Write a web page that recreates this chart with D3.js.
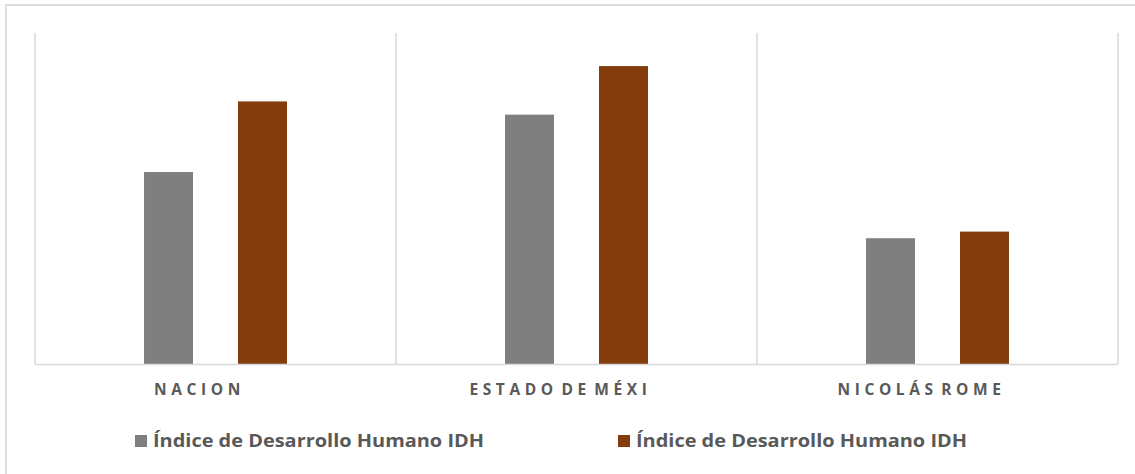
<!DOCTYPE html>
<html>
<head>
<meta charset="utf-8">
<script src="https://cdn.jsdelivr.net/npm/d3@7"></script>
<style>
  body { margin: 0; background: #fff; }
  svg { display: block; }
</style>
</head>
<body>
<svg id="chart" width="1135" height="474"></svg>
<script>
// categories (labels are truncated as in the original)
var categories = ['NACION', 'ESTADO DE MÉXI', 'NICOLÁS ROME'];
var seriesNames = ['Índice de Desarrollo Humano IDH', 'Índice de Desarrollo Humano IDH'];
// values (no value axis shown)
var idhA = [0.737, 0.763, 0.707];
var idhB = [0.769, 0.785, 0.710];
var seriesColors = ['#7f7f7f', '#843c0c'];

function drawChart() {
    const svg = d3.select('#chart');
    var textGray = '#595959';
    var lineGray = '#d9d9d9';

    var left = 35, right = 1118, top = 33, bottom = 364;

    // outer frame (only top and left edges are visible in the crop)
    svg.append('path')
        .attr('d', 'M6,474 L6,5 L1135,5')
        .attr('fill', 'none')
        .attr('stroke', '#dedede')
        .attr('stroke-width', 2);

    var x = d3.scaleBand()
        .domain(categories)
        .range([left, right])
        .padding(0);

    var xInner = d3.scaleBand()
        .domain([0, 1])
        .range([0, x.bandwidth()])
        .paddingInner(0.479)
        .paddingOuter(1.16);

    var y = d3.scaleLinear()
        .domain([0.65, 0.80])
        .range([bottom, top]);

    // category separators
    var seps = categories.map(function (c) { return x(c); }).concat([right]);
    svg.selectAll('.sep')
        .data(seps)
        .enter().append('line')
        .attr('x1', function (d) { return d; })
        .attr('x2', function (d) { return d; })
        .attr('y1', top)
        .attr('y2', bottom)
        .attr('stroke', lineGray)
        .attr('stroke-width', 1.5);

    var series = [idhA, idhB];
    for (var s = 0; s < series.length; s++) {
        svg.selectAll('.bar' + s)
            .data(series[s])
            .enter().append('rect')
            .attr('x', function (d, i) { return x(categories[i]) + xInner(s); })
            .attr('y', function (d) { return y(d); })
            .attr('width', xInner.bandwidth())
            .attr('height', function (d) { return bottom - y(d); })
            .attr('fill', seriesColors[s]);
    }

    // baseline
    svg.append('line')
        .attr('x1', left)
        .attr('x2', right)
        .attr('y1', bottom + 0.5)
        .attr('y2', bottom + 0.5)
        .attr('stroke', lineGray)
        .attr('stroke-width', 1.5);

    // category labels
    svg.selectAll('.cat')
        .data(categories)
        .enter().append('text')
        .text(function (d) { return d; })
        .attr('x', function (d) { return x(d) + x.bandwidth() / 2 - 16; })
        .attr('y', 395)
        .attr('text-anchor', 'middle')
        .attr('font-family', '"Open Sans", sans-serif')
        .attr('font-weight', 700)
        .attr('font-size', 15.5)
        .attr('letter-spacing', '4.6px')
        .attr('word-spacing', '-5px')
        .attr('fill', textGray);

    // legend
    var legendX = [135, 618];
    for (var k = 0; k < seriesNames.length; k++) {
        svg.append('rect')
            .attr('x', legendX[k])
            .attr('y', 435)
            .attr('width', 12)
            .attr('height', 12)
            .attr('fill', seriesColors[k]);
        svg.append('text')
            .text(seriesNames[k])
            .attr('x', legendX[k] + 18)
            .attr('y', 447)
            .attr('font-family', '"Open Sans", sans-serif')
            .attr('font-weight', 700)
            .attr('font-size', 17.5)
            .attr('textLength', 331)
            .attr('lengthAdjust', 'spacingAndGlyphs')
            .attr('fill', textGray);
    }
}

window.onload = drawChart;
</script>
</body>
</html>
